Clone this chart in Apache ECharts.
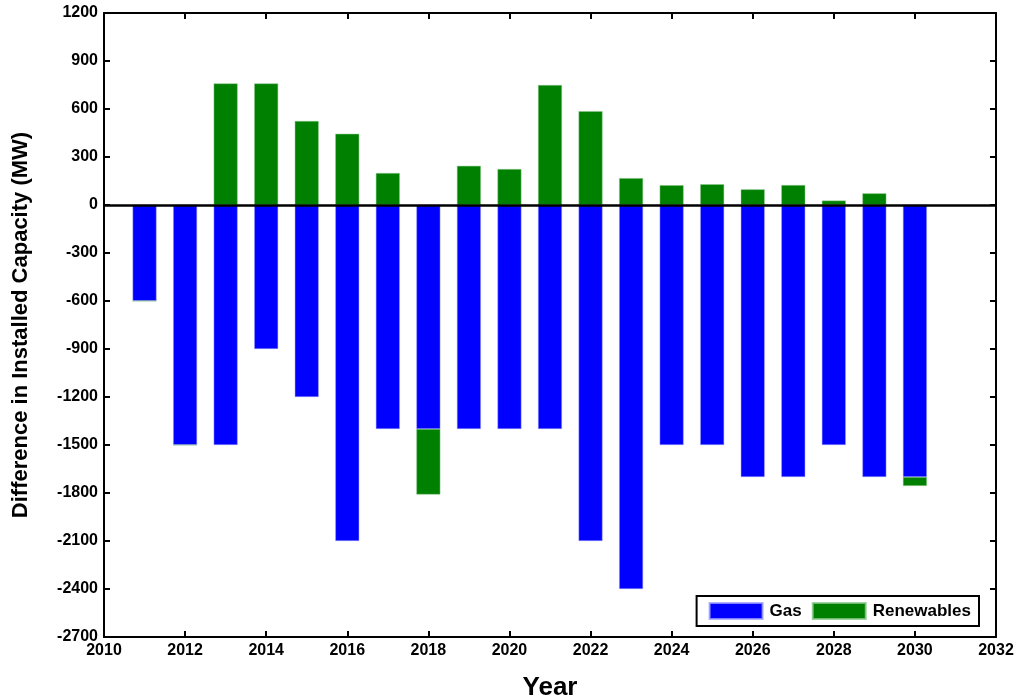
<!DOCTYPE html>
<html>
<head>
<meta charset="utf-8">
<script src="https://cdn.jsdelivr.net/npm/echarts@6/dist/echarts.min.js"></script>
<style>
html,body{margin:0;padding:0;background:#fff;}
#chart{width:1022px;height:699px;}
</style>
</head>
<body>
<div id="chart"></div>
<script>
const years = [2011,2012,2013,2014,2015,2016,2017,2018,2019,2020,2021,2022,2023,2024,2025,2026,2027,2028,2029,2030];
const gas = [-600,-1500,-1500,-900,-1200,-2100,-1400,-1400,-1400,-1400,-1400,-2100,-2400,-1500,-1500,-1700,-1700,-1500,-1700,-1700];
const renewables = [0,0,760,760,525,445,200,-410,245,225,750,587,168,124,130,98,125,28,73,-56];
const xRange = {min:2010, max:2032, step:2};
const yTicks = {min:-2700, max:1200, interval:300};

// category positions for every year of the x range (ticks/labels every 2 years)
const axisYears = [];
for (let y = xRange.min; y <= xRange.max; y++) axisYears.push(String(y));
const alignTo = arr => axisYears.map(y => {
  const i = years.indexOf(Number(y));
  return i < 0 ? null : arr[i];
});

const font = 'Liberation Sans, Arial, sans-serif';
const chart = echarts.init(document.getElementById('chart'), null, {renderer:'canvas'});

const tickEvery = idx => (idx % xRange.step) === 0;
const axisLineStyle = {show:true, onZero:false, lineStyle:{color:'#000', width:2}};
const tickStyle = {show:true, inside:true, length:6, lineStyle:{color:'#000', width:2}};

chart.setOption({
  animation:false,
  backgroundColor:'#fff',
  grid:{left:104, right:26, top:13, bottom:62, containLabel:false, outerBoundsMode:'none'},
  legend:{
    data:['Gas','Renewables'],
    right:43, bottom:73,
    orient:'horizontal',
    itemWidth:53, itemHeight:16, itemGap:10,
    padding:[6,8,6,12],
    borderColor:'#000', borderWidth:2, borderRadius:0,
    backgroundColor:'#fff',
    textStyle:{fontFamily:font, fontWeight:'bold', fontSize:17, color:'#000', padding:[0,0,0,2]},
    icon:'rect'
  },
  xAxis:[
    {
      type:'category', position:'bottom', data:axisYears, boundaryGap:false,
      axisLine:axisLineStyle,
      axisTick:Object.assign({}, tickStyle, {interval:(i)=>tickEvery(i)}),
      splitLine:{show:false},
      name:'Year', nameLocation:'middle', nameGap:38,
      nameTextStyle:{fontFamily:font, fontWeight:'bold', fontSize:26, color:'#000'},
      axisLabel:{interval:(i)=>tickEvery(i), fontFamily:font, fontWeight:'bold', fontSize:16, color:'#000', margin:6}
    },
    {
      type:'category', position:'top', data:axisYears, boundaryGap:false,
      axisLine:axisLineStyle,
      axisTick:Object.assign({}, tickStyle, {interval:(i)=>tickEvery(i)}),
      splitLine:{show:false},
      axisLabel:{show:false}
    }
  ],
  yAxis:[
    {
      type:'value', position:'left', min:yTicks.min, max:yTicks.max, interval:yTicks.interval,
      axisLine:axisLineStyle, axisTick:tickStyle, splitLine:{show:false},
      name:'Difference in Installed Capacity (MW)', nameLocation:'middle', nameGap:72,
      nameTextStyle:{fontFamily:font, fontWeight:'bold', fontSize:22, color:'#000'},
      axisLabel:{formatter:v=>String(v), fontFamily:font, fontWeight:'bold', fontSize:16, color:'#000', margin:6}
    },
    {
      type:'value', position:'right', min:yTicks.min, max:yTicks.max, interval:yTicks.interval,
      axisLine:axisLineStyle, axisTick:tickStyle, splitLine:{show:false},
      axisLabel:{show:false}
    }
  ],
  series:[
    {
      name:'Gas', type:'bar', stack:'cap', stackStrategy:'samesign', barWidth:24,
      itemStyle:{color:'#0000ff', borderColor:'rgba(160,160,255,0.8)', borderWidth:0.6},
      data: alignTo(gas),
      markLine:{
        silent:true, symbol:'none', label:{show:false},
        lineStyle:{color:'#000', width:2.5, type:'solid'},
        data:[{yAxis:0}],
        z:10
      }
    },
    {
      name:'Renewables', type:'bar', stack:'cap', stackStrategy:'samesign', barWidth:24,
      itemStyle:{color:'#008000', borderColor:'rgba(140,200,140,0.8)', borderWidth:0.6},
      data: alignTo(renewables)
    }
  ]
});
</script>
</body>
</html>
